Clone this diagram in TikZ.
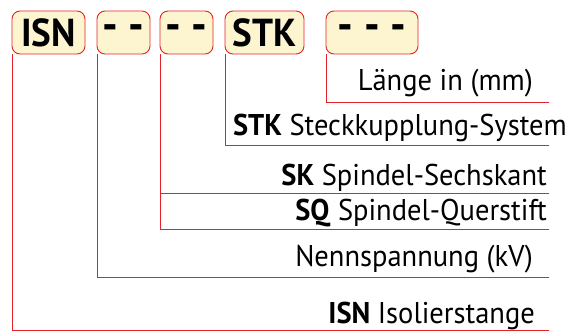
\documentclass[tikz,border=0pt]{standalone}
\usepackage{fontspec}
\setmainfont{PT Sans}[FakeStretch=0.95]
\definecolor{boxred}{HTML}{E3222C}
\definecolor{boxfill}{HTML}{FCF5D0}
\tikzset{
  codebox/.style={draw=boxred, fill=boxfill, line width=0.9pt, rounded corners=8pt,
    minimum height=43pt, inner sep=0pt, font=\fontsize{39}{41}\selectfont\bfseries},
  dashbox/.style={codebox, font=\fontsize{46}{48}\selectfont\bfseries},
  leader/.style={draw=boxred, line width=0.8pt},
  desc/.style={anchor=base east, inner sep=0pt, font=\fontsize{30}{32}\selectfont}
}
\newcommand{\dashgap}{\hskip11pt}
\begin{document}
\begin{tikzpicture}[x=1pt,y=-1pt]
\useasboundingbox (0,0) rectangle (586,332);
% right ends of the leader lines
\coordinate (rLen) at (549,102);
\coordinate (rStk) at (549,145);
\coordinate (rSk) at (549,193.5);
\coordinate (rSq) at (549,229.5);
\coordinate (rNenn) at (549,277.5);
\coordinate (rIsn) at (549,330);
% boxes (positions)
\path (48.5,32.5) node[codebox, minimum width=73pt, draw=none, fill=none] (isn) {};
\path (123.5,32.5) node[codebox, minimum width=53pt, draw=none, fill=none] (dda) {};
\path (186.5,32.5) node[codebox, minimum width=53pt, draw=none, fill=none] (ddb) {};
\path (264.5,32.5) node[codebox, minimum width=79pt, draw=none, fill=none] (stk) {};
\path (372,32.5) node[codebox, minimum width=92pt, draw=none, fill=none] (len) {};
% leaders
\draw[leader] ([xshift=0.6pt]isn.south west) |- (rIsn);
\draw[leader] ([xshift=0.4pt]dda.south west) |- (rNenn);
\draw[leader] ([xshift=0.4pt]ddb.south west) |- (rSq);
\draw[leader] (ddb.south west |- rSk) -- (rSk);
\draw[leader] ([xshift=0.4pt]stk.south west) |- (rStk);
\draw[leader] ([xshift=0.6pt]len.south west) |- (rLen);
% boxes drawn
\node[codebox, minimum width=73pt] at (isn) {ISN};
\node[dashbox, minimum width=53pt] at (dda) {-\dashgap-};
\node[dashbox, minimum width=53pt] at (ddb) {-\dashgap-};
\node[codebox, minimum width=79pt] at (stk) {STK};
\node[dashbox, minimum width=92pt] at (len) {-\dashgap-\dashgap-};
% descriptions
\node[desc] (tLen) at (533,90) {Länge in (mm)};
\node[desc] (tStk) at (567,135.5) {\textbf{STK} Steckkupplung-System};
\node[desc] (tSk) at (547,185) {\textbf{SK} Spindel-Sechskant};
\node[desc] (tSq) at (547,220) {\textbf{SQ} Spindel-Querstift};
\node[desc] (tNenn) at (533,266.5) {Nennspannung (kV)};
\node[desc] (tIsn) at (535,323) {\textbf{ISN} Isolierstange};
\end{tikzpicture}
\end{document}
